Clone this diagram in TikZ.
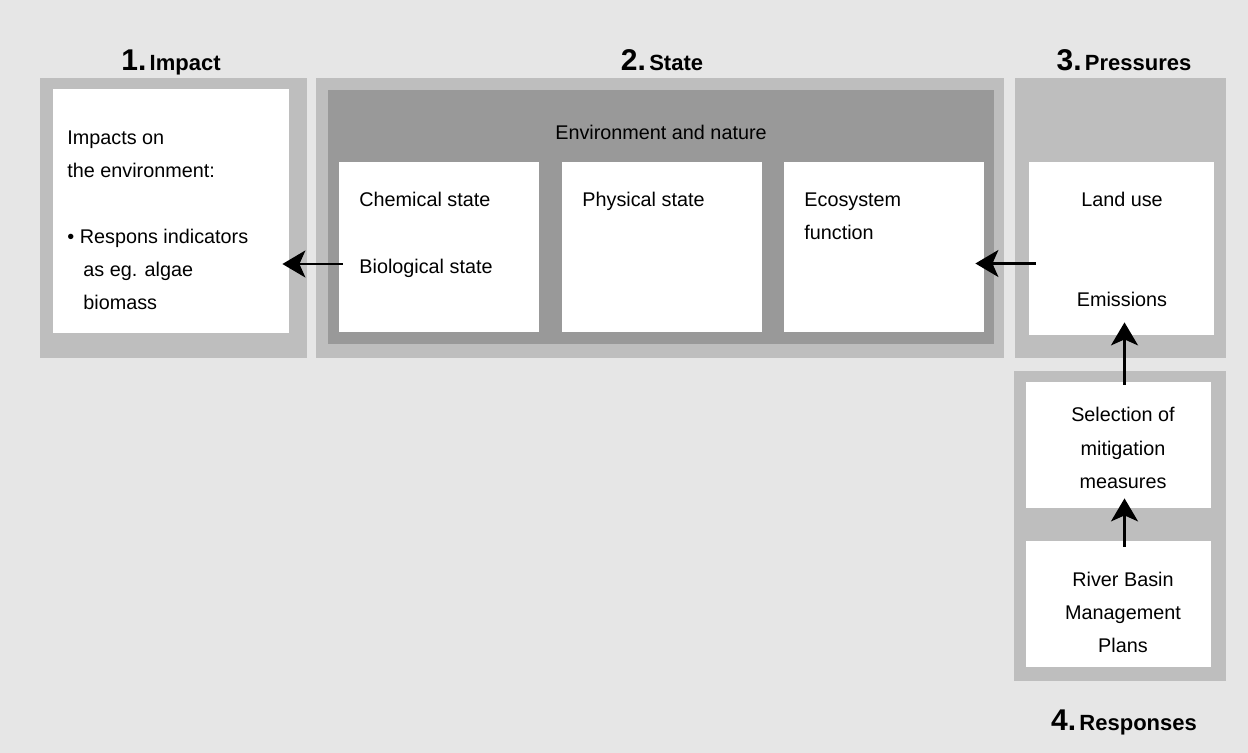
\documentclass[tikz,border=0pt]{standalone}
\usepackage{fontspec}
\setmainfont{Liberation Sans}
\usetikzlibrary{arrows.meta, fit}
\definecolor{back}{RGB}{230, 230, 230}
\definecolor{light}{RGB}{190, 190, 190}
\definecolor{dark}{RGB}{153, 153, 153}

\tikzset{
  wbox/.style={fill=white, inner sep=0},
  txt/.style={inner sep=0, font=\fontsize{9.9}{16.5}\selectfont},
  head/.style={inner sep=0, anchor=base},
  arr/.style={-{Stealth[length=11.5pt, width=13.5pt, inset=3pt]}, line width=1.2pt}
}
\newcommand{\headline}[2]{{\fontsize{15}{15}\selectfont\bfseries #1.}\,{\fontsize{11}{11}\selectfont\bfseries #2}}

\begin{document}
\begin{tikzpicture}[x=0.5pt, y=-0.5pt]
  \useasboundingbox (0, 0) rectangle (1248, 753);
  \fill[back] (0, 0) rectangle (1248, 753);

  % frames
  \fill[light] (40, 78) rectangle (307, 358);
  \fill[light] (316, 78) rectangle (1004, 358);
  \fill[dark] (328, 90) rectangle (994, 344);
  \fill[light] (1015, 78) rectangle (1226, 358);
  \fill[light] (1014, 371) rectangle (1226, 681);

  % white boxes
  \node[wbox, fit={(53, 89) (289, 333)}] (imp) {};
  \node[wbox, fit={(339, 162) (539, 332)}] (chem) {};
  \node[wbox, fit={(562, 162) (762, 332)}] (phys) {};
  \node[wbox, fit={(784, 162) (984, 332)}] (eco) {};
  \node[wbox, fit={(1029, 162) (1214, 335)}] (press) {};
  \node[wbox, fit={(1026, 382) (1211, 508)}] (sel) {};
  \node[wbox, fit={(1026, 541) (1211, 667)}] (rbmp) {};

  % headings
  \node[head] (h1) at (171, 71) {\headline{1}{Impact}};
  \node[head] (h2) at (662, 71) {\headline{2}{State}};
  \node[head] (h3) at (1124, 71) {\headline{3}{Pressures}};
  \node[head] (h4) at (1124, 730) {\headline{4}{Responses}};

  % texts (multi-line nodes sit on their last baseline)
  \node[txt, anchor=base west, align=left] (imptxt) at (67, 310)
    {Impacts on\\the environment:\\ \mbox{}\\
     \textbullet\ Respons indicators\\\hspace*{8pt}as eg. algae\\\hspace*{8pt}biomass};
  \node[txt, anchor=base] (envtxt) at (661, 140) {Environment and nature};
  \node[txt, anchor=base west] (chemtxt) at (359, 207) {Chemical state};
  \node[txt, anchor=base west] (biotxt) at (359, 274) {Biological state};
  \node[txt, anchor=base west] (phystxt) at (582, 207) {Physical state};
  \node[txt, anchor=base west, align=left] (ecotxt) at (804, 240) {Ecosystem\\function};
  \node[txt, anchor=base] (landtxt) at (1122, 207) {Land use};
  \node[txt, anchor=base] (emtxt) at (1122, 307) {Emissions};
  \node[txt, anchor=base, align=center] (seltxt) at (1123, 488) {Selection of\\mitigation\\measures};
  \node[txt, anchor=base, align=center] (rbmptxt) at (1123, 652) {River Basin\\Management\\Plans};

  % arrows
  \draw[arr] ([shift={(4, 17)}]chem.west) coordinate (s1) -- ([xshift=-3.5pt]s1 -| imp.east);
  \draw[arr] ([shift={(7, 15)}]press.west) coordinate (s2) -- ([xshift=-4.5pt]s2 -| eco.east);
  \draw[arr] ([shift={(6, 3)}]sel.north) coordinate (s3) -- ([yshift=6.5pt]s3 |- press.south);
  \draw[arr] ([shift={(6, 6)}]rbmp.north) coordinate (s4) -- ([yshift=5pt]s4 |- sel.south);
\end{tikzpicture}
\end{document}
